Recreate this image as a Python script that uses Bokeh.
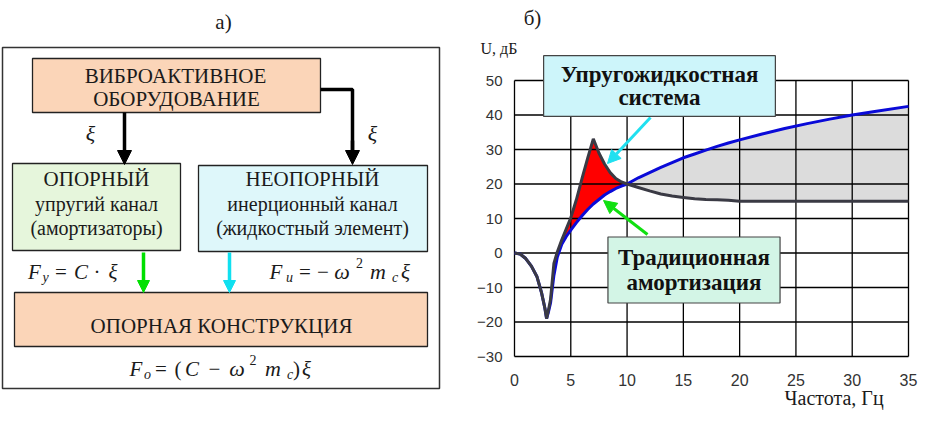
import numpy as np
from bokeh.plotting import figure
from bokeh.models import (Range1d, FixedTicker, Label, Arrow, NormalHead,
                          ColumnDataSource, LinearAxis)
from bokeh.core.properties import value
from bokeh.embed import file_html
from bokeh.resources import INLINE

# ---------------- data for chart б) ----------------
freq_hz = [0, 0.5, 1, 1.5, 2, 2.4, 2.7, 2.85, 3.0, 3.2, 3.5, 3.8, 4.2, 4.6, 5.0, 5.5,
           6.0, 6.5, 7.0, 7.5, 8.0, 8.5, 9.0, 9.5, 10, 11, 12, 13, 14, 15, 16, 17,
           18, 19, 20, 22, 24, 26, 28, 30, 32, 35]
u_elastic_db = [0, -0.3, -1.6, -3.8, -6.9, -11.5, -16, -19, -16.8, -13.5, -3.0, 0.3,
                3.8, 7.0, 10.2, 15.5, 21.6, 27.5, 33.1, 29.0, 25.8, 23.3, 21.6, 20.6,
                20.0, 19.0, 18.0, 17.1, 16.5, 16.1, 15.7, 15.5, 15.4, 15.3, 15.0, 15.0,
                15.0, 15.0, 15.0, 15.0, 15.0, 15.0]
u_traditional_db = [0, -0.3, -1.6, -3.8, -6.9, -11.5, -16, -19, -17.3, -14.5, -6.5, -1.2,
                    2.5, 4.8, 6.6, 8.8, 10.8, 12.6, 14.2, 15.5, 16.8, 17.8, 18.7, 19.4,
                    20.0, 21.8, 23.3, 24.8, 26.2, 27.6, 28.7, 29.8, 30.9, 31.9, 32.8, 34.5,
                    36.1, 37.5, 38.8, 40.0, 41.0, 42.5]
x_ticks = [0, 5, 10, 15, 20, 25, 30, 35]
y_ticks = [-30, -20, -10, 0, 10, 20, 30, 40, 50]

SERIF_NAME = "Liberation Serif, DejaVu Serif, serif"
SERIF = value(SERIF_NAME)

# ---------------- page / layout geometry (pixels) ----------------
W, H = 933, 434
X0_PX, X35_PX = 514, 908      # where x=0 and x=35 sit on the page
Y50_PX, YM30_PX = 80, 356     # where y=50 and y=-30 sit on the page
SX = (X35_PX - X0_PX) / (x_ticks[-1] - x_ticks[0])
SY = (YM30_PX - Y50_PX) / (y_ticks[-1] - y_ticks[0])


def cx(px):
    return x_ticks[0] + (px - X0_PX) / SX


def cy(py):
    return y_ticks[-1] - (py - Y50_PX) / SY


p = figure(width=W, height=H, x_range=Range1d(cx(0), cx(W)), y_range=Range1d(cy(H), cy(0)),
           x_axis_location=None, y_axis_location=None, min_border=0,
           output_backend="svg", toolbar_location=None)
p.outline_line_color = None
p.grid.visible = False
p.extra_x_ranges = {"px": Range1d(0, W)}
p.extra_y_ranges = {"py": Range1d(H, 0)}
PX = dict(x_range_name="px", y_range_name="py")

# ---------------- left: block diagram а) ----------------
p.quad(left=[2], right=[439], top=[47], bottom=[388], fill_color="white",
       line_color="#333333", line_width=1.5, **PX)
p.quad(left=[32, 12, 198, 14], right=[320, 180, 427, 427],
       top=[58, 163, 165, 292], bottom=[112, 250, 251, 346],
       fill_color=["#fbd5b8", "#e6f6dc", "#def7fa", "#fbd5b8"],
       line_color="#222222", line_width=1.3, **PX)

p.line(x=[320, 352, 352], y=[89, 89, 150], line_color="black", line_width=3.5, **PX)
for xs, ys, ye, sz, col in [(124, 112, 164, 14, "black"), (352, 140, 164, 14, "black"),
                            (143, 252, 292, 12, "#00e000"), (229, 252, 292, 12, "#10e0f0")]:
    p.add_layout(Arrow(end=NormalHead(size=sz, fill_color=col, line_color=col),
                       x_start=xs, y_start=ys, x_end=xs, y_end=ye,
                       line_color=col, line_width=3.5, **PX))

box_txt = ColumnDataSource(dict(
    x=[223, 175, 176, 96, 96, 96, 312, 312, 312, 221, 90, 372],
    y=[21, 75, 98, 178, 203, 227, 178, 203, 227, 325, 133, 133],
    t=["а)", "ВИБРОАКТИВНОЕ", "ОБОРУДОВАНИЕ", "ОПОРНЫЙ", "упругий канал",
       "(амортизаторы)", "НЕОПОРНЫЙ", "инерционный канал", "(жидкостный элемент)",
       "ОПОРНАЯ КОНСТРУКЦИЯ", "ξ", "ξ"],
    s=["21px", "21px", "21px", "21px", "20px", "20px", "21px", "20px", "20px", "21px",
       "22px", "22px"],
    st=["normal"] * 10 + ["italic", "italic"],
))
p.text(x="x", y="y", text="t", source=box_txt, text_font=SERIF, text_font_size="s",
       text_font_style="st", text_align="center", text_baseline="middle",
       text_color="#1a1a1a", **PX)

# formulas, piece by piece (centre x, baseline y)
pieces = [
    ("F", 34, 271, "21px", "italic"), ("у", 45, 277, "14px", "italic"),
    ("=", 60.5, 271, "21px", "normal"), ("C", 80.5, 271, "21px", "italic"),
    ("·", 96.5, 271, "21px", "normal"), ("ξ", 112.5, 271, "21px", "italic"),
    ("F", 275.5, 271, "21px", "italic"), ("и", 289, 277, "14px", "italic"),
    ("=", 304.5, 271, "21px", "normal"), ("−", 322.5, 271, "21px", "normal"),
    ("ω", 341.5, 271, "22px", "italic"), ("2", 359, 262, "14px", "normal"),
    ("m", 377.5, 271, "22px", "italic"), ("c", 394.5, 277, "14px", "italic"),
    ("ξ", 405, 271, "21px", "italic"),
    ("F", 135.5, 368, "21px", "italic"), ("о", 147, 374, "14px", "italic"),
    ("=", 160.5, 368, "21px", "normal"), ("(", 177.5, 368, "21px", "normal"),
    ("C", 191.5, 368, "21px", "italic"), ("−", 214, 368, "21px", "normal"),
    ("ω", 236.5, 368, "22px", "italic"), ("2", 252.5, 359, "14px", "normal"),
    ("m", 272.5, 368, "22px", "italic"), ("c", 289.5, 374, "14px", "italic"),
    (")", 296, 368, "21px", "normal"), ("ξ", 306, 368, "21px", "italic"),
]
fsrc = ColumnDataSource(dict(t=[q[0] for q in pieces], x=[q[1] for q in pieces],
                             y=[q[2] for q in pieces], s=[q[3] for q in pieces],
                             st=[q[4] for q in pieces]))
p.text(x="x", y="y", text="t", source=fsrc, text_font=SERIF, text_font_size="s",
       text_font_style="st", text_align="center", text_baseline="alphabetic",
       text_color="#1a1a1a", **PX)

# ---------------- right: chart б) ----------------
f = np.array(freq_hz)
ue = np.array(u_elastic_db)
ut = np.array(u_traditional_db)
m_red = (f >= 3.8) & (f <= 10)
m_gray = f >= 10
p.varea(x=f[m_red], y1=ut[m_red], y2=ue[m_red], fill_color="#ff0000")
p.varea(x=f[m_gray], y1=ue[m_gray], y2=ut[m_gray], fill_color="#dcdcdc")

# grid lines and frame, bounded to the axis limits
nx, ny = len(x_ticks), len(y_ticks)
p.segment(x0=x_ticks, y0=[y_ticks[0]] * nx, x1=x_ticks, y1=[y_ticks[-1]] * nx,
          line_color="black", line_width=1.3)
p.segment(x0=[x_ticks[0]] * ny, y0=y_ticks, x1=[x_ticks[-1]] * ny, y1=y_ticks,
          line_color="black", line_width=1.3)

p.line(f, ut, line_color="#0a0ad8", line_width=3)
p.line(f, ue, line_color="#3a3a44", line_width=3)

xaxis = LinearAxis(ticker=FixedTicker(ticks=x_ticks), fixed_location=y_ticks[0])
yaxis = LinearAxis(ticker=FixedTicker(ticks=y_ticks), fixed_location=x_ticks[0])
for ax in (xaxis, yaxis):
    ax.axis_line_color = None
    ax.major_tick_line_color = None
    ax.minor_tick_line_color = None
    ax.major_label_text_font = "Liberation Sans"
    ax.major_label_text_color = "#333333"
yaxis.major_label_text_font_size = "15px"
xaxis.major_label_text_font_size = "16px"
yaxis.major_label_standoff = 6
xaxis.major_label_standoff = 11
p.add_layout(xaxis, "below")
p.add_layout(yaxis, "left")

# callout arrows
p.add_layout(Arrow(end=NormalHead(size=13, fill_color="#20e0f0", line_color="#20e0f0"),
                   x_start=cx(650), y_start=cy(117), x_end=cx(607), y_end=cy(163),
                   line_color="#20e0f0", line_width=3))
p.add_layout(Arrow(end=NormalHead(size=13, fill_color="#10e010", line_color="#10e010"),
                   x_start=cx(647), y_start=cy(234), x_end=cx(603), y_end=cy(200),
                   line_color="#10e010", line_width=3))

# callout boxes
p.add_layout(Label(x=cx(659), y=cy(85.5), text="Упругожидкостная\nсистема",
                   text_font=SERIF_NAME, text_font_style="bold", text_font_size="23px",
                   text_line_height=0.95,
                   text_align="center", text_baseline="middle", text_color="#111111",
                   background_fill_color="#cdf5fa", border_line_color="#444444",
                   border_line_width=1.2, padding=(17, 6)))
p.add_layout(Label(x=cx(693.5), y=cy(269.5), text="Традиционная\nамортизация",
                   text_font=SERIF_NAME, text_font_style="bold", text_font_size="23px",
                   text_line_height=1.0,
                   text_align="center", text_baseline="middle", text_color="#111111",
                   background_fill_color="#d3f5e6", border_line_color="#444444",
                   border_line_width=1.2, padding=(10, 8)))

# chart title and axis names
p.add_layout(Label(x=cx(532), y=cy(17), text="б)", text_font=SERIF_NAME,
                   text_font_size="21px", text_align="center", text_baseline="middle",
                   text_color="#1a1a1a"))
p.add_layout(Label(x=cx(480), y=cy(48), text="U, дБ", text_font=SERIF_NAME,
                   text_font_size="16px", text_align="left", text_baseline="middle",
                   text_color="#1a1a1a"))
p.add_layout(Label(x=cx(784), y=cy(397), text="Частота, Гц", text_font=SERIF_NAME,
                   text_font_size="20px", text_align="left", text_baseline="middle",
                   text_color="#1a1a1a"))

open("out.html", "w").write(file_html(p, INLINE))
